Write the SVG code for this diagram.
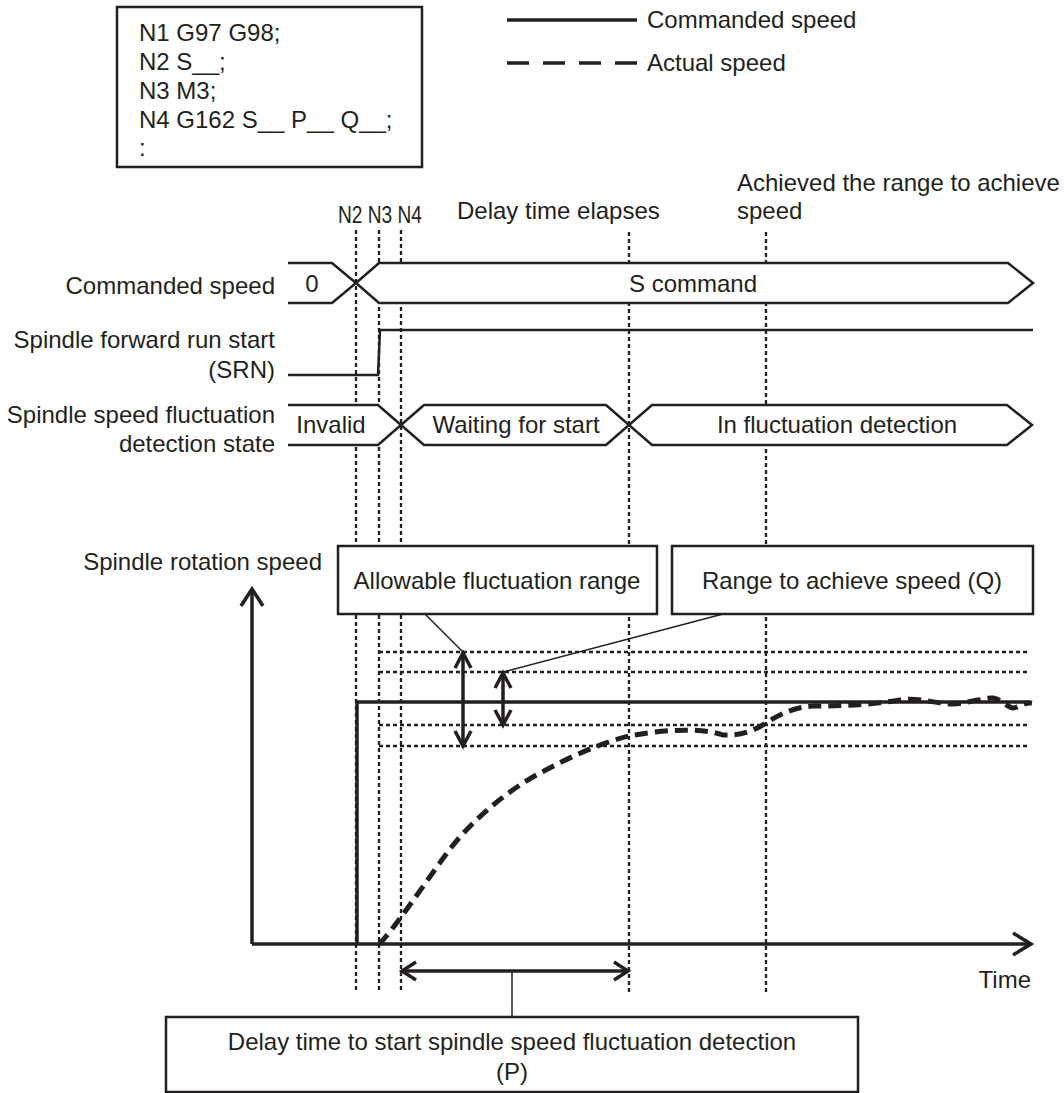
<svg xmlns="http://www.w3.org/2000/svg" width="1064" height="1093" viewBox="0 0 1064 1093">
<style>
.t{font-family:"Liberation Sans",Arial,sans-serif;font-size:24px;fill:#231f20}
.m{text-anchor:middle}
.e{text-anchor:end}
.fill{fill:#fff;stroke:none}
.ln{fill:none;stroke:#231f20;stroke-width:2.5;stroke-linejoin:miter}
.dot{fill:none;stroke:#231f20;stroke-width:2.3;stroke-dasharray:4 3}
.box{fill:#fff;stroke:#231f20;stroke-width:2.5}
.thin{fill:none;stroke:#231f20;stroke-width:1.5}
.thick{fill:none;stroke:#231f20;stroke-width:3.5}
</style>

<g id="program">
<rect class="box" x="117" y="7" width="305" height="160" stroke-width="1.5"/>
<text class="t" x="139" y="41">N1 G97 G98;</text>
<text class="t" x="139" y="70">N2 S__;</text>
<text class="t" x="139" y="99">N3 M3;</text>
<text class="t" x="139" y="128">N4 G162 S__ P__ Q__;</text>
<text class="t" x="139" y="156">:</text>
</g>

<g id="legend">
<line class="thick" x1="507" y1="20" x2="637" y2="20" stroke-width="3"/>
<text class="t" x="647" y="28">Commanded speed</text>
<line class="thick" x1="507" y1="63" x2="637" y2="63" stroke-width="4" stroke-dasharray="22 14"/>
<text class="t" x="647" y="71">Actual speed</text>
</g>

<g id="time-labels">
<text class="t" x="338" y="223" font-size="21" textLength="84" lengthAdjust="spacingAndGlyphs">N2 N3 N4</text>
<text class="t" x="457" y="219">Delay time elapses</text>
<text class="t" x="737" y="191">Achieved the range to achieve</text>
<text class="t" x="737" y="219">speed</text>
</g>

<g id="signal-labels">
<text class="t e" x="275" y="294">Commanded speed</text>
<text class="t e" x="275" y="348">Spindle forward run start</text>
<text class="t e" x="275" y="378">(SRN)</text>
<text class="t e" x="275" y="423">Spindle speed fluctuation</text>
<text class="t e" x="275" y="452">detection state</text>
</g>

<g id="markers">
<line class="dot" x1="356" y1="230" x2="356" y2="993"/>
<line class="dot" x1="379" y1="230" x2="379" y2="993"/>
<line class="dot" x1="401" y1="230" x2="401" y2="993"/>
<line class="dot" x1="629" y1="232" x2="629" y2="993"/>
<line class="dot" x1="766" y1="232" x2="766" y2="993"/>
</g>

<g id="commanded-speed-bus">
<polygon class="fill" points="288,263 332,263 356,283 332,303 288,303"/>
<polyline class="ln" points="288,263 332,263 356,283 332,303 288,303"/>
<text class="t m" x="312" y="292">0</text>
<polygon class="fill" points="356,283 379,263 1008,263 1033,283 1008,303 379,303"/>
<polygon class="ln" points="356,283 379,263 1008,263 1033,283 1008,303 379,303"/>
<text class="t m" x="693" y="292">S command</text>
</g>

<g id="srn-signal">
<polyline class="ln" points="288,375 378,375 380,330 1033,330"/>
</g>

<g id="detection-state-bus">
<polygon class="fill" points="288,405 378,405 401,425 378,445 288,445"/>
<polyline class="ln" points="288,405 378,405 401,425 378,445 288,445"/>
<text class="t m" x="331" y="433">Invalid</text>
<polygon class="fill" points="401,425 424,405 606,405 629,425 606,445 424,445"/>
<polygon class="ln" points="401,425 424,405 606,405 629,425 606,445 424,445"/>
<text class="t m" x="516" y="433">Waiting for start</text>
<polygon class="fill" points="629,425 652,405 1007,405 1032,425 1007,445 652,445"/>
<polygon class="ln" points="629,425 652,405 1007,405 1032,425 1007,445 652,445"/>
<text class="t m" x="837" y="433">In fluctuation detection</text>
</g>

<g id="graph">
<text class="t e" x="322" y="570">Spindle rotation speed</text>
<line class="dot" x1="379" y1="652" x2="1030" y2="652"/>
<line class="dot" x1="379" y1="672" x2="1030" y2="672"/>
<line class="dot" x1="379" y1="725" x2="1030" y2="725"/>
<line class="dot" x1="379" y1="746" x2="1030" y2="746"/>
<line class="thick" x1="252" y1="944" x2="252" y2="589"/>
<polyline class="thick" points="241,606 252,589 263,606"/>
<line class="thick" x1="252" y1="944" x2="1029" y2="944"/>
<polyline class="thick" points="1013,933 1031,944 1013,955"/>
<text class="t e" x="1031" y="988" font-size="22">Time</text>
<polyline class="thick" points="357,944 357,702 1030,702"/>
<path fill="none" stroke="#231f20" stroke-width="5" stroke-dasharray="13 7" d="M379,944 C392,932 420,890 447,853 C470,822 505,792 540,773 C570,757 600,743 629,736 C660,730 700,727 723,735 C742,736 755,730 766,723 C780,714 795,707 813,706 C840,706 870,705 900,700 C920,697 935,704 953,704 C970,703 985,697 993,698 C1003,700 1008,708 1013,708 C1018,708 1024,702 1032,703"/>
</g>

<g id="allowable-range">
<line class="thin" x1="425" y1="614" x2="463" y2="652"/>
<rect class="box" x="338" y="546" width="319" height="68"/>
<text class="t m" x="497" y="589">Allowable fluctuation range</text>
<line class="thick" x1="463" y1="654" x2="463" y2="744"/>
<polyline class="thick" points="455,668 463,653 471,668"/>
<polyline class="thick" points="455,731 463,746 471,731"/>
</g>

<g id="achieve-range">
<line class="thin" x1="503" y1="672" x2="723" y2="614"/>
<rect class="box" x="672" y="546" width="361" height="68"/>
<text class="t m" x="852" y="589">Range to achieve speed (Q)</text>
<line class="thick" x1="503" y1="674" x2="503" y2="723"/>
<polyline class="thick" points="495,688 503,673 511,688"/>
<polyline class="thick" points="495,710 503,725 511,710"/>
</g>

<g id="delay-time">
<line class="thick" x1="403" y1="971" x2="627" y2="971"/>
<polyline class="thick" points="416,962 402,971 416,980"/>
<polyline class="thick" points="614,962 628,971 614,980"/>
<line class="thin" x1="512" y1="971" x2="512" y2="1017"/>
<rect class="box" x="166" y="1017" width="692" height="75"/>
<text class="t m" x="512" y="1050">Delay time to start spindle speed fluctuation detection</text>
<text class="t m" x="512" y="1080">(P)</text>
</g>
</svg>
